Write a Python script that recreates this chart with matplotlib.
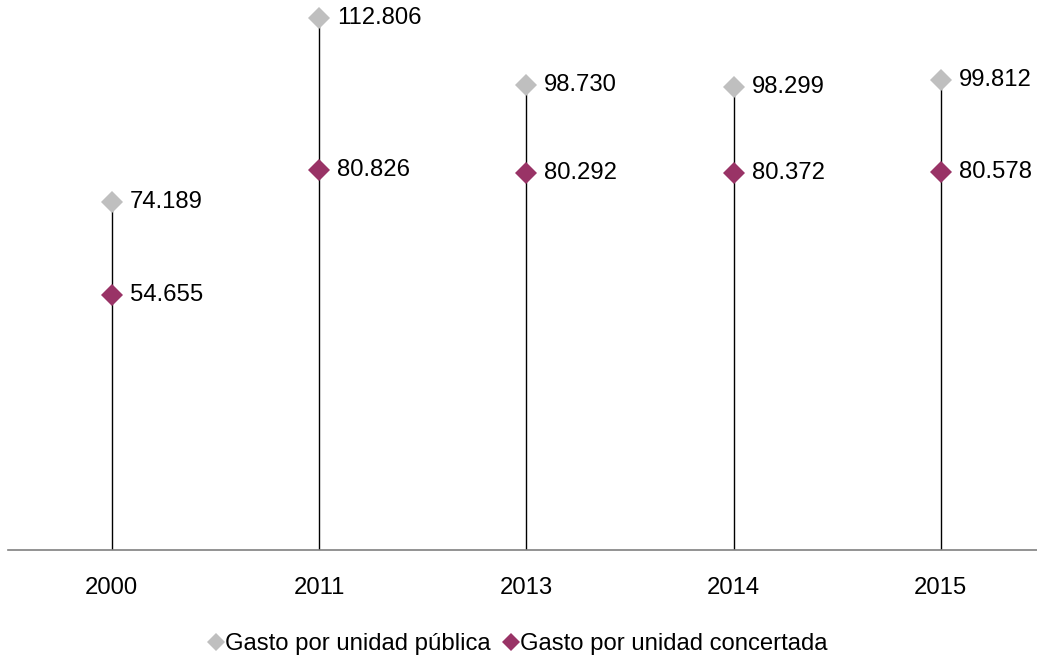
import matplotlib.pyplot as plt
import numpy as np

plt.rcParams['font.family'] = ['Liberation Sans', 'DejaVu Sans']

# ----------------------------
# Data
# ----------------------------
years = ["2000", "2011", "2013", "2014", "2015"]
publica = [74189, 112806, 98730, 98299, 99812]
concertada = [54655, 80826, 80292, 80372, 80578]

labels = ["Gasto por unidad pública", "Gasto por unidad concertada"]
GRAY = "#BFBFBF"
PURPLE = "#993366"
FS = 17.2
Y_MIN, Y_MAX = 1200, 116600


def fmt(v):
    return f"{v:,}".replace(",", ".")


fig = plt.figure(figsize=(10.37, 6.59), dpi=100)
ax = fig.add_axes([8 / 1037, (659 - 549.5) / 659, 1036.5 / 1037, 549.5 / 659])

x = np.arange(len(years))

# stems from the axis up to the top value
ax.vlines(x, Y_MIN, publica, color="black", linewidth=1.0, zorder=1)

ax.plot(x, publica, linestyle="none", marker="D", markersize=11,
        color=GRAY, markeredgewidth=0, zorder=3, label=labels[0])
ax.plot(x, concertada, linestyle="none", marker="D", markersize=11,
        color=PURPLE, markeredgewidth=0, zorder=3, label=labels[1])

for xi, v in zip(x, publica):
    ax.annotate(fmt(v), (xi, v), xytext=(13, 0), textcoords="offset points",
                va="center", ha="left", fontsize=FS, color="black")
for xi, v in zip(x, concertada):
    ax.annotate(fmt(v), (xi, v), xytext=(13, 0), textcoords="offset points",
                va="center", ha="left", fontsize=FS, color="black")

ax.set_xlim(-0.5, len(years) - 0.5)
ax.set_ylim(Y_MIN, Y_MAX)

ax.set_xticks(x)
ax.set_xticklabels(years, fontsize=FS)
ax.tick_params(axis="x", length=0, pad=20)
ax.set_yticks([])

for s in ["top", "right", "left"]:
    ax.spines[s].set_visible(False)
ax.spines["bottom"].set_color("#808080")
ax.spines["bottom"].set_linewidth(1.2)

fig.legend(loc="center", bbox_to_anchor=(0.5, (659 - 644) / 659), ncol=2,
           frameon=False, fontsize=FS, handlelength=0.5, handletextpad=0.12,
           columnspacing=0.6, markerscale=0.8)

fig.savefig("out.png", dpi=100)
